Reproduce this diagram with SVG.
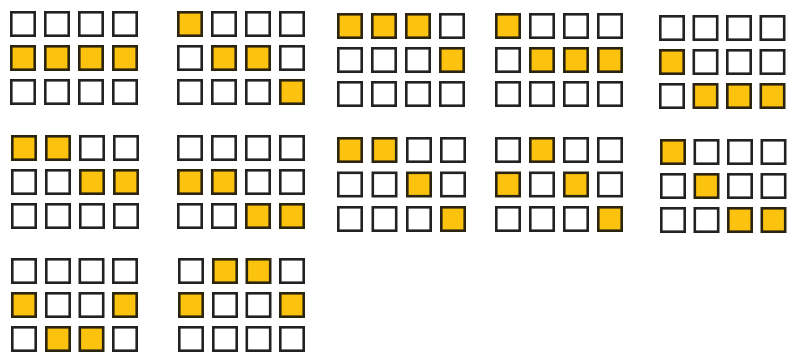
<svg xmlns="http://www.w3.org/2000/svg" width="787" height="353" viewBox="0 0 787 353">
<style>
rect.c{fill:#fff;stroke:#222;stroke-width:2.6}
rect.y{fill:#FCC30E;stroke:#2a2410;stroke-width:2.6}
</style>
<rect width="787" height="353" fill="#fff"/>
<defs>
<rect id="w" class="c" x="1.3" y="1.3" width="23.4" height="23.4"/>
<rect id="f" class="y" x="1.3" y="1.3" width="23.4" height="23.4"/>
</defs>
<g id="grid1" transform="translate(10,11)">
<use href="#w" x="0" y="0"/><use href="#w" x="34" y="0"/><use href="#w" x="68" y="0"/><use href="#w" x="102" y="0"/>
<use href="#f" x="0" y="34"/><use href="#f" x="34" y="34"/><use href="#f" x="68" y="34"/><use href="#f" x="102" y="34"/>
<use href="#w" x="0" y="68"/><use href="#w" x="34" y="68"/><use href="#w" x="68" y="68"/><use href="#w" x="102" y="68"/>
</g>
<g id="grid2" transform="translate(177,11)">
<use href="#f" x="0" y="0"/><use href="#w" x="34" y="0"/><use href="#w" x="68" y="0"/><use href="#w" x="102" y="0"/>
<use href="#w" x="0" y="34"/><use href="#f" x="34" y="34"/><use href="#f" x="68" y="34"/><use href="#w" x="102" y="34"/>
<use href="#w" x="0" y="68"/><use href="#w" x="34" y="68"/><use href="#w" x="68" y="68"/><use href="#f" x="102" y="68"/>
</g>
<g id="grid3" transform="translate(337,13)">
<use href="#f" x="0" y="0"/><use href="#f" x="34" y="0"/><use href="#f" x="68" y="0"/><use href="#w" x="102" y="0"/>
<use href="#w" x="0" y="34"/><use href="#w" x="34" y="34"/><use href="#w" x="68" y="34"/><use href="#f" x="102" y="34"/>
<use href="#w" x="0" y="68"/><use href="#w" x="34" y="68"/><use href="#w" x="68" y="68"/><use href="#w" x="102" y="68"/>
</g>
<g id="grid4" transform="translate(495,13)">
<use href="#f" x="0" y="0"/><use href="#w" x="34" y="0"/><use href="#w" x="68" y="0"/><use href="#w" x="102" y="0"/>
<use href="#w" x="0" y="34"/><use href="#f" x="34" y="34"/><use href="#f" x="68" y="34"/><use href="#f" x="102" y="34"/>
<use href="#w" x="0" y="68"/><use href="#w" x="34" y="68"/><use href="#w" x="68" y="68"/><use href="#w" x="102" y="68"/>
</g>
<g id="grid5" transform="translate(659,15)">
<use href="#w" x="0" y="0"/><use href="#w" x="33.5" y="0"/><use href="#w" x="67" y="0"/><use href="#w" x="100.5" y="0"/>
<use href="#f" x="0" y="34"/><use href="#w" x="33.5" y="34"/><use href="#w" x="67" y="34"/><use href="#w" x="100.5" y="34"/>
<use href="#w" x="0" y="68"/><use href="#f" x="33.5" y="68"/><use href="#f" x="67" y="68"/><use href="#f" x="100.5" y="68"/>
</g>
<g id="grid6" transform="translate(11,135)">
<use href="#f" x="0" y="0"/><use href="#f" x="34" y="0"/><use href="#w" x="68" y="0"/><use href="#w" x="102" y="0"/>
<use href="#w" x="0" y="34"/><use href="#w" x="34" y="34"/><use href="#f" x="68" y="34"/><use href="#f" x="102" y="34"/>
<use href="#w" x="0" y="68"/><use href="#w" x="34" y="68"/><use href="#w" x="68" y="68"/><use href="#w" x="102" y="68"/>
</g>
<g id="grid7" transform="translate(177,135)">
<use href="#w" x="0" y="0"/><use href="#w" x="34" y="0"/><use href="#w" x="68" y="0"/><use href="#w" x="102" y="0"/>
<use href="#f" x="0" y="34"/><use href="#f" x="34" y="34"/><use href="#w" x="68" y="34"/><use href="#w" x="102" y="34"/>
<use href="#w" x="0" y="68"/><use href="#w" x="34" y="68"/><use href="#f" x="68" y="68"/><use href="#f" x="102" y="68"/>
</g>
<g id="grid8" transform="translate(337,137)">
<use href="#f" x="0" y="0"/><use href="#f" x="34.5" y="0"/><use href="#w" x="69" y="0"/><use href="#w" x="103" y="0"/>
<use href="#w" x="0" y="34.5"/><use href="#w" x="34.5" y="34.5"/><use href="#f" x="69" y="34.5"/><use href="#w" x="103" y="34.5"/>
<use href="#w" x="0" y="69"/><use href="#w" x="34.5" y="69"/><use href="#w" x="69" y="69"/><use href="#f" x="103" y="69"/>
</g>
<g id="grid9" transform="translate(495,137)">
<use href="#w" x="0" y="0"/><use href="#f" x="34" y="0"/><use href="#w" x="68" y="0"/><use href="#w" x="102" y="0"/>
<use href="#f" x="0" y="34.5"/><use href="#w" x="34" y="34.5"/><use href="#f" x="68" y="34.5"/><use href="#w" x="102" y="34.5"/>
<use href="#w" x="0" y="69"/><use href="#w" x="34" y="69"/><use href="#w" x="68" y="69"/><use href="#f" x="102" y="69"/>
</g>
<g id="grid10" transform="translate(660,139)">
<use href="#f" x="0" y="0"/><use href="#w" x="33.5" y="0"/><use href="#w" x="67" y="0"/><use href="#w" x="100.5" y="0"/>
<use href="#w" x="0" y="34"/><use href="#f" x="33.5" y="34"/><use href="#w" x="67" y="34"/><use href="#w" x="100.5" y="34"/>
<use href="#w" x="0" y="68"/><use href="#w" x="33.5" y="68"/><use href="#f" x="67" y="68"/><use href="#f" x="100.5" y="68"/>
</g>
<g id="grid11" transform="translate(11,258)">
<use href="#w" x="0" y="0"/><use href="#w" x="34" y="0"/><use href="#w" x="67.5" y="0"/><use href="#w" x="101" y="0"/>
<use href="#f" x="0" y="34"/><use href="#w" x="34" y="34"/><use href="#w" x="67.5" y="34"/><use href="#f" x="101" y="34"/>
<use href="#w" x="0" y="68"/><use href="#f" x="34" y="68"/><use href="#f" x="67.5" y="68"/><use href="#w" x="101" y="68"/>
</g>
<g id="grid12" transform="translate(178,258)">
<use href="#w" x="0" y="0"/><use href="#f" x="34" y="0"/><use href="#f" x="67.5" y="0"/><use href="#w" x="101" y="0"/>
<use href="#f" x="0" y="34"/><use href="#w" x="34" y="34"/><use href="#w" x="67.5" y="34"/><use href="#f" x="101" y="34"/>
<use href="#w" x="0" y="68"/><use href="#w" x="34" y="68"/><use href="#w" x="67.5" y="68"/><use href="#w" x="101" y="68"/>
</g>
<g id="connectors"/>
</svg>
